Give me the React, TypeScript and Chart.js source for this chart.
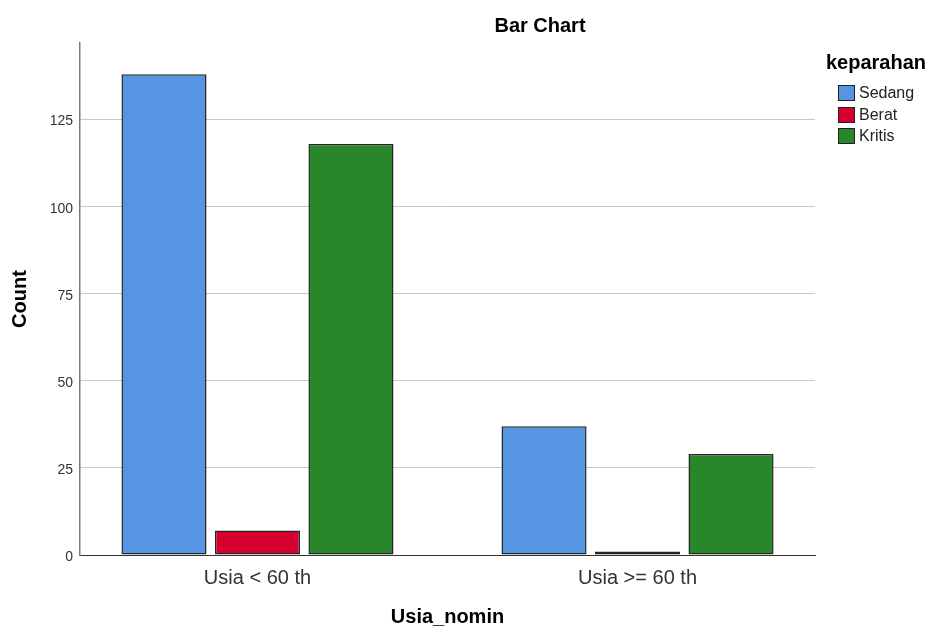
import { useEffect, useRef } from "react";
import { Chart, registerables } from "chart.js";

Chart.register(...registerables);

const chartTitle = "Bar Chart";
const legendTitle = "keparahan";
const xAxisTitle = "Usia_nomin";
const yAxisTitle = "Count";
const categories = ["Usia < 60 th", "Usia >= 60 th"];
const seriesNames = ["Sedang", "Berat", "Kritis"];
const sedangValues = [138, 37];
const beratValues = [7, 1];
const kritisValues = [118, 29];
const seriesColors = ["#5595e3", "#d5002f", "#2a862a"];
const yMax = 147;
const yStep = 25;

const FONT = '"Liberation Sans", Arial, Helvetica, sans-serif';

const overlayPlugin = {
  id: "spssOverlay",
  afterDraw(chart: any) {
    const ctx = chart.ctx as CanvasRenderingContext2D;
    ctx.save();
    // chart title
    ctx.fillStyle = "#000";
    ctx.font = `bold 20px ${FONT}`;
    ctx.textAlign = "center";
    ctx.textBaseline = "middle";
    ctx.fillText(chartTitle, 540, 26);
    // legend
    ctx.textAlign = "left";
    ctx.textBaseline = "alphabetic";
    ctx.fillText(legendTitle, 826, 69);
    chart.data.datasets.forEach((ds: any, i: number) => {
      const y = 85 + i * 21.6;
      ctx.fillStyle = ds.backgroundColor;
      ctx.fillRect(838.5, Math.round(y) + 0.5, 16, 15);
      ctx.strokeStyle = "#222";
      ctx.lineWidth = 1;
      ctx.strokeRect(838.5, Math.round(y) + 0.5, 16, 15);
      ctx.fillStyle = "#222";
      ctx.font = `16px ${FONT}`;
      ctx.textBaseline = "middle";
      ctx.fillText(ds.label, 859, Math.round(y) + 8.5);
    });
    ctx.restore();
  },
};

const valuesBySeries = [sedangValues, beratValues, kritisValues];

export default function App() {
  const canvasRef = useRef<HTMLCanvasElement | null>(null);

  useEffect(() => {
    if (!canvasRef.current) return;
    const chart = new Chart(canvasRef.current, {
      type: "bar",
      data: {
        datasets: seriesNames.map((name, si) => ({
          label: name,
          data: valuesBySeries[si].map((v, i) => ({ x: i, y: v })),
          backgroundColor: seriesColors[si],
          borderColor: "#262626",
          borderWidth: 1.5,
          borderSkipped: false,
          categoryPercentage: 0.738,
          barPercentage: 0.91,
        })),
      },
      plugins: [overlayPlugin],
      options: {
        animation: false,
        responsive: true,
        maintainAspectRatio: false,
        layout: { padding: { top: 43, right: 118, left: 0, bottom: 0 } },
        plugins: {
          legend: { display: false },
          title: { display: false },
          tooltip: { enabled: false },
        },
        scales: {
          x: {
            type: "linear",
            min: -0.467,
            max: 1.467,
            offset: false,
            grid: { display: false, drawTicks: false },
            border: { display: true, color: "#333", width: 1 },
            afterBuildTicks: (scale: any) => {
              scale.ticks = categories.map((_, i) => ({ value: i }));
            },
            afterFit: (scale: any) => {
              scale.height = 71;
            },
            ticks: {
              autoSkip: false,
              maxRotation: 0,
              padding: 11,
              color: "#333",
              font: { family: FONT, size: 20 },
              callback: (_v: any, index: number) => categories[index] ?? "",
            },
            title: {
              display: true,
              text: xAxisTitle,
              color: "#000",
              font: { family: FONT, size: 20, weight: "bold", lineHeight: 1 },
              padding: { top: 0, bottom: -1 },
            },
          },
          y: {
            min: 0,
            max: yMax,
            grid: { color: "#c8c8c8", lineWidth: 1, drawTicks: false },
            border: { display: true, color: "#7a7a7a", width: 1.5 },
            afterFit: (scale: any) => {
              scale.width = 80;
            },
            ticks: {
              stepSize: yStep,
              includeBounds: false,
              padding: 7,
              labelOffset: 2,
              color: "#333",
              font: { family: FONT, size: 14 },
            },
            title: {
              display: true,
              text: yAxisTitle,
              color: "#000",
              font: { family: FONT, size: 20, weight: "bold", lineHeight: 1.2 },
              padding: { top: 8, bottom: 0 },
            },
          },
        },
      },
    } as any);
    return () => chart.destroy();
  }, []);

  return (
    <div style={{ position: "fixed", left: 0, top: 0, width: 933, height: 626, background: "#fff" }}>
      <canvas ref={canvasRef} />
    </div>
  );
}
